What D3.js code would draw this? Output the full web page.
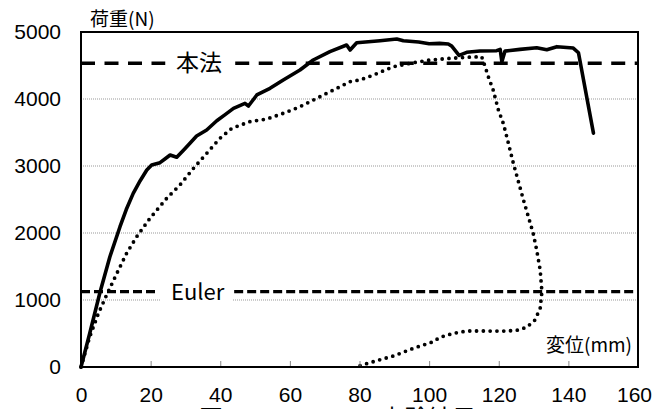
<!DOCTYPE html>
<html><head><meta charset="utf-8">
<script src="https://cdn.jsdelivr.net/npm/d3@7/dist/d3.min.js"></script>
<style>body{margin:0;background:#fff}svg{display:block}</style>
</head><body><svg id="c" width="671" height="409"></svg>
<script>
const xTicks = [0,20,40,60,80,100,120,140,160];
const yTicks = [0,1000,2000,3000,4000,5000];
const gridLoads = [1000,2000,3000,4000];
const honpoLoad = 4533;
const eulerLoad = 1124;
const yTitle = "荷重(N)";
const xTitle = "変位(mm)";
const honpoLabel = "本法";
const eulerLabel = "Euler";

const solidX = [0,2.5,5.5,8.3,11.2,13,15,17,18.9,20.3,22.7,24,25.6,27.5,29.5,31.3,33.2,36.1,39,41.5,43.8,47.1,48.1,50.5,54.3,58.1,62.9,66.7,71.5,76.3,77.3,79.2,85.9,90.7,92.6,97,100,103,105.5,106.5,108.6,110.8,114.6,119.4,120.4,120.9,121.8,126.1,130.9,133.8,136.7,141.4,142.9,147.2];
const solidY = [0,500,1124,1646,2094,2350,2592,2780,2940,3015,3050,3100,3164,3130,3240,3339,3448,3537,3675,3770,3861,3935,3895,4060,4159,4284,4433,4582,4706,4806,4731,4840,4870,4896,4870,4850,4825,4830,4820,4790,4650,4697,4716,4721,4741,4557,4715,4741,4766,4735,4781,4760,4690,3490];

const dotX = [0,2.5,5,7.4,10.3,13.1,16,19.8,24.6,28.4,32.3,36.1,39.9,43.3,48.5,53.3,58.1,62.9,67.7,72.5,77.3,80.1,84,89.7,95.5,100.3,106,110.8,115.1,116.1,117,118.4,119.9,121.3,122.3,124.2,127.1,129.9,130.9,131.9,132.4,131.9,130.4,128,125,121,116.5,110.8,107,103.1,101.2,95.5,89.7,84,79.5];
const dotY = [0,450,800,1080,1398,1697,1945,2219,2517,2716,2965,3189,3413,3562,3662,3700,3786,3885,4010,4134,4259,4284,4358,4482,4542,4582,4607,4622,4632,4483,4333,4134,3836,3637,3437,3040,2493,1995,1746,1448,1124,876,701,592,545,535,537,537,502,443,378,279,164,80,10];

const svg = d3.select("#c");
const x = d3.scaleLinear().domain([0,160]).range([81,638]);
const y = d3.scaleLinear().domain([0,5000]).range([367,32]);

// gridlines
svg.append("g").selectAll("line").data(gridLoads).join("line")
  .attr("x1", x(0)).attr("x2", x(160))
  .attr("y1", d=>y(d)).attr("y2", d=>y(d))
  .attr("stroke", "#999").attr("stroke-width", 1).attr("stroke-dasharray", "1 1");

// reference dashed lines
function refLine(load, gap0, gap1, dash, w){
  const g = svg.append("g");
  [[0, gap0],[gap1,160]].forEach(([a,b])=>{
    g.append("line").attr("x1", x(a)).attr("x2", x(b))
      .attr("y1", y(load)).attr("y2", y(load))
      .attr("stroke", "#000").attr("stroke-width", w).attr("stroke-dasharray", dash);
  });
}
refLine(honpoLoad, 24.2, 44.3, "14 9.5", 3.5);
refLine(eulerLoad, 22.1, 44.0, "9 4", 3.2);

// label backgrounds / labels
svg.append("text").attr("x", 176).attr("y", y(honpoLoad)+8)
  .attr("font-family", "Noto Sans CJK JP").attr("font-size", 23).text(honpoLabel);
svg.append("rect").attr("x", 160).attr("y", y(eulerLoad)-13).attr("width", 73).attr("height", 26).attr("fill", "#fff");
svg.append("text").attr("x", 171).attr("y", y(eulerLoad)+8)
  .attr("font-family", "Noto Sans CJK JP").attr("font-size", 22).text(eulerLabel);

// curves
const line = d3.line().x(d=>x(d[0])).y(d=>y(d[1]));
svg.append("path").datum(solidX.map((v,i)=>[v, solidY[i]]))
  .attr("d", line).attr("fill", "none").attr("stroke", "#000")
  .attr("stroke-width", 3.6).attr("stroke-linejoin", "round").attr("stroke-linecap", "round");
svg.append("path").datum(dotX.map((v,i)=>[v, dotY[i]]))
  .attr("d", line).attr("fill", "none").attr("stroke", "#000")
  .attr("stroke-width", 3.8).attr("stroke-dasharray", "0 6.8").attr("stroke-linecap", "round");

// axes
const ax = svg.append("g").attr("transform", `translate(0,${y(0)})`)
  .call(d3.axisBottom(x).tickValues(xTicks).tickFormat(d3.format("d")).tickSize(-6).tickPadding(20));
ax.select(".domain").remove();
ax.selectAll(".tick line").attr("stroke", "#888");
ax.selectAll(".tick text").attr("font-family", "Liberation Sans, Arial").attr("font-size", 21).attr("fill", "#000");
ax.selectAll(".tick").filter(d=>d===160).select("text").attr("dx", -4);

const ay = svg.append("g").attr("transform", `translate(${x(0)},0)`)
  .call(d3.axisLeft(y).tickValues(yTicks).tickFormat(d3.format("d")).tickSize(0).tickPadding(20));
ay.select(".domain").remove();
ay.selectAll(".tick text").attr("font-family", "Liberation Sans, Arial").attr("font-size", 21).attr("fill", "#000");

// frame
svg.append("rect").attr("x", x(0)).attr("y", y(5000)).attr("width", x(160)-x(0)).attr("height", y(0)-y(5000))
  .attr("fill", "none").attr("stroke", "#000").attr("stroke-width", 2);

// titles
svg.append("text").attr("x", 90).attr("y", 26).attr("font-family", "Noto Sans CJK JP").attr("font-size", 19).text(yTitle);
svg.append("text").attr("x", 546).attr("y", 352).attr("font-family", "Noto Sans CJK JP").attr("font-size", 19).text(xTitle);

// caption (mostly below the visible area)
svg.append("text").attr("x", 199).attr("y", 427).attr("font-family", "Noto Sans CJK JP").attr("font-size", 24).text("図-5");
svg.append("text").attr("x", 380).attr("y", 427).attr("font-family", "Noto Sans CJK JP").attr("font-size", 24).text("実験結果");
</script></body></html>
